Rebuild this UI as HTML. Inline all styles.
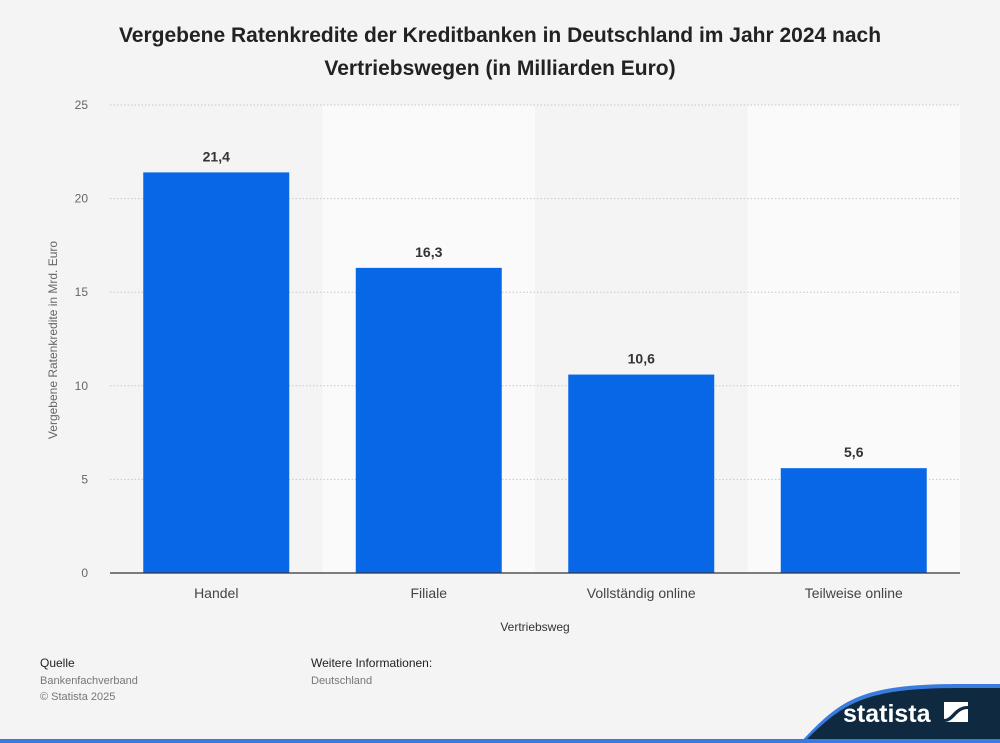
<!DOCTYPE html>
<html><head><meta charset="utf-8">
<style>
body{margin:0;background:#f4f4f4;font-family:"Liberation Sans",sans-serif;}
#wrap{position:relative;width:1000px;height:743px;overflow:hidden;background:#f4f4f4;}
</style></head>
<body>
<div id="wrap">
<svg id="chart" width="1000" height="743" xmlns="http://www.w3.org/2000/svg">
<text x="500" y="42" text-anchor="middle" font-size="21" font-weight="bold" fill="#222">Vergebene Ratenkredite der Kreditbanken in Deutschland im Jahr 2024 nach</text>
<text x="500" y="75" text-anchor="middle" font-size="21" font-weight="bold" fill="#222">Vertriebswegen (in Milliarden Euro)</text>
<g id="bands"></g>
<g id="grid"></g>
<g id="bars"></g>
<line x1="110" y1="573" x2="960" y2="573" stroke="#333" stroke-width="1.2"/>
<text x="0" y="0" transform="translate(57,340) rotate(-90)" text-anchor="middle" font-size="12" fill="#666">Vergebene Ratenkredite in Mrd. Euro</text>
<text x="535" y="631" text-anchor="middle" font-size="12" fill="#333">Vertriebsweg</text>
<text x="40" y="667" font-size="12" fill="#222">Quelle</text>
<text x="40" y="684" font-size="11" fill="#777">Bankenfachverband</text>
<text x="40" y="700" font-size="11" fill="#777">© Statista 2025</text>
<text x="311" y="667" font-size="12" fill="#222">Weitere Informationen:</text>
<text x="311" y="684" font-size="11" fill="#777">Deutschland</text>
<path d="M800,743 C840,700 860,684 960,684 L1000,684 L1000,743 Z" fill="#3a7be0"/>
<path d="M803,743 C843,703 863,688 960,688 L1000,688 L1000,743 Z" fill="#0f2a40"/>
<rect x="0" y="739" width="1000" height="4" fill="#3a7be0"/>
<text x="843" y="722" font-size="25" font-weight="bold" fill="#fff">statista</text>
<g>
<rect x="944" y="702" width="24" height="20" fill="#fff"/>
<path d="M944,719 C952,719 954,706 968,706 L968,709 C956,709 955,722 944,722 Z" fill="#0f2a40"/>
</g>
</svg>
</div>
<script>
const categories = ["Handel","Filiale","Vollständig online","Teilweise online"];
const values = [21.4,16.3,10.6,5.6];
const valueLabels = ["21,4","16,3","10,6","5,6"];
const yTicks = [0,5,10,15,20,25];
const NS="http://www.w3.org/2000/svg";
const L=110,R=960,T=105,B=573,yMax=25;
const bw=(R-L)/categories.length;
function y(v){return B-(v/yMax)*(B-T);}
function x(i){return L+i*bw;}
function mk(tag,attrs,parent){const e=document.createElementNS(NS,tag);for(const k in attrs)e.setAttribute(k,attrs[k]);parent.appendChild(e);return e;}
const bands=document.getElementById('bands'),grid=document.getElementById('grid'),bars=document.getElementById('bars');
categories.forEach((c,i)=>{
  const r=mk('rect',{x:x(i),y:T,width:bw,height:B-T,fill:i%2?'#fafafa':'#f4f4f4'},bands);
  
  
});
yTicks.forEach(t=>{
  if(t>0){const l=mk('line',{x1:L,x2:R,y1:y(t),y2:y(t),stroke:'#c8c8c8','stroke-dasharray':'1.5,2'},grid);
  
  }
  const tx=mk('text',{x:88,y:y(t)+4,'text-anchor':'end','font-size':12,fill:'#666'},grid);
  tx.textContent=t;
  
  
});
categories.forEach((c,i)=>{
  const cx=x(i)+bw/2,w=146;
  const b=mk('rect',{x:cx-w/2,y:y(values[i]),width:w,height:B-y(values[i]),fill:'#0867e6'},bars);
  
  
  const vl=mk('text',{x:cx,y:y(values[i])-11,'text-anchor':'middle','font-size':14,'font-weight':'bold',fill:'#333'},bars);
  vl.textContent=valueLabels[i];
  
  
  const cl=mk('text',{x:cx,y:598,'text-anchor':'middle','font-size':14,fill:'#444'},bars);
  cl.textContent=c;
  
  
});
</script>
</body></html>
